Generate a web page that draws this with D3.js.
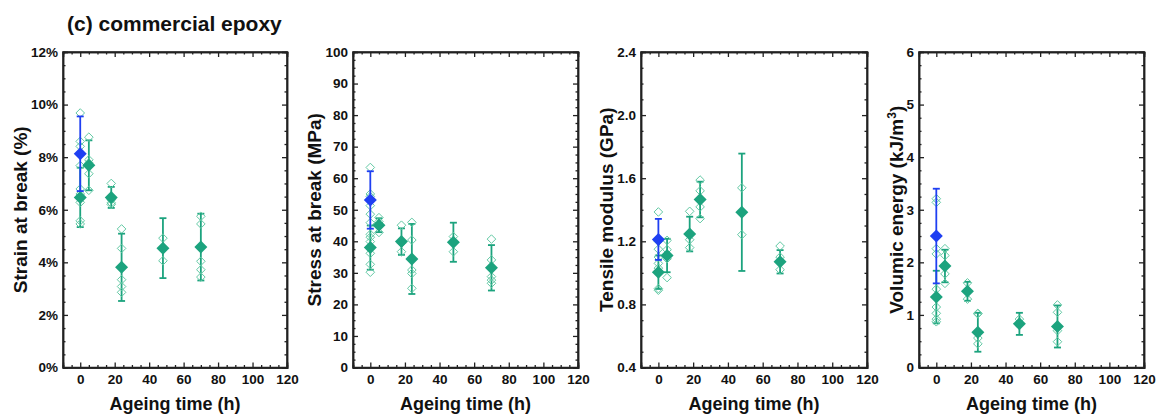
<!DOCTYPE html>
<html><head><meta charset="utf-8">
<script src="https://cdn.jsdelivr.net/npm/d3@7"></script>
<style>
body{margin:0;background:#fff;}
text{font-family:"Liberation Sans",Arial,sans-serif;font-weight:bold;fill:#111;}
</style></head>
<body><svg id="c" width="1156" height="414"></svg>
<script>
// ---- data ----
const times = [0, 5, 18, 24, 48, 70];
const xTicks = [0, 20, 40, 60, 80, 100, 120];

const strainMean = [6.47, 7.69, 6.47, 3.81, 4.54, 4.58];
const strainErr  = [1.13, 0.95, 0.40, 1.28, 1.14, 1.27];
const strainRef  = [8.13, 1.42];
const strainPts  = [[9.68, 8.6, 8.41, 7.68, 6.79, 6.6, 6.28, 5.58, 5.46],
                    [8.76, 7.9, 7.78, 7.37, 6.74],
                    [7.0, 6.38, 6.26, 6.2],
                    [5.27, 4.53, 3.34, 3.08, 2.86],
                    [4.92, 4.06],
                    [5.75, 5.46, 4.04, 3.72, 3.44]];

const stressMean = [38.0, 45.1, 39.9, 34.4, 39.7, 31.6];
const stressErr  = [7.0, 2.2, 4.2, 11.1, 6.2, 7.2];
const stressRef  = [53.1, 9.1];
const stressPts  = [[63.4, 55.0, 54.2, 51.3, 48.6, 45.9, 42.2, 41.3, 39.9, 36.2, 32.7, 30.2],
                    [47.5, 46.2, 42.8],
                    [45.1, 39.4, 36.7],
                    [46.0, 40.4, 30.9, 29.8, 25.1],
                    [41.5, 36.7],
                    [40.7, 34.1, 28.8, 27.7, 26.7]];

const modMean = [1.004, 1.11, 1.246, 1.465, 1.384, 1.07];
const modErr  = [0.106, 0.106, 0.11, 0.113, 0.372, 0.074];
const modRef  = [1.212, 0.13];
const modPts  = [[1.386, 1.2, 1.15, 1.1, 1.06, 1.03, 0.9, 0.89],
                 [1.206, 1.147, 1.09, 0.97],
                 [1.39, 1.21, 1.16],
                 [1.588, 1.52, 1.418, 1.344],
                 [1.539, 1.242],
                 [1.17, 1.1, 1.02]];

const energyMean = [1.34, 1.93, 1.45, 0.67, 0.83, 0.78];
const energyErr  = [0.5, 0.31, 0.18, 0.37, 0.21, 0.4];
const energyRef  = [2.5, 0.9];
const energyPts  = [[3.21, 3.14, 2.26, 2.16, 1.49, 1.15, 1.03, 0.92, 0.87],
                    [2.26, 2.13, 1.78, 1.6],
                    [1.61, 1.3],
                    [1.03, 1.02, 0.56, 0.45],
                    [0.92],
                    [1.19, 1.05, 0.7, 0.49]];

const panels = [
  {left:63,  right:287,  yDom:[0,12],    major:2,   minor:0.5,   fmt:d=>d+"%", label:"Strain at break (%)", lx:20,
   mean:strainMean, err:strainErr, ref:strainRef, pts:strainPts},
  {left:353, right:578,  yDom:[0,100],   major:10,  minor:2.5,   fmt:d=>d, label:"Stress at break (MPa)", lx:314,
   mean:stressMean, err:stressErr, ref:stressRef, pts:stressPts},
  {left:641, right:867,  yDom:[0.4,2.4], major:0.4, minor:0.1,   fmt:d3.format(".1f"), label:"Tensile modulus (GPa)", lx:606,
   mean:modMean, err:modErr, ref:modRef, pts:modPts},
  {left:919, right:1144, yDom:[0,6],     major:1,   minor:0.25,  fmt:d=>d, label:"Volumic energy (kJ/m3)", lx:896, sup:true,
   mean:energyMean, err:energyErr, ref:energyRef, pts:energyPts}
];

const TOP = 52, BOT = 367.5;
const GREEN = "#1ca37e", LIGHT = "#62c9a4", BLUE = "#1f3ff2";
const svg = d3.select("#c");

svg.append("text").attr("x", 67).attr("y", 31).style("font-size", "21px").text("(c) commercial epoxy");

const diamond = r => `M0,${-r}L${r},0L0,${r}L${-r},0Z`;

function range(a, b, s){ const r=[]; for(let v=a; v<=b+1e-9; v+=s) r.push(+v.toFixed(4)); return r; }

panels.forEach(p => {
  const x = d3.scaleLinear().domain([-10, 120]).range([p.left, p.right]);
  const y = d3.scaleLinear().domain(p.yDom).range([BOT, TOP]);
  const g = svg.append("g");

  const yMajor = range(p.yDom[0], p.yDom[1], p.major);
  const yMinor = range(p.yDom[0], p.yDom[1], p.minor).filter(v => !yMajor.some(m => Math.abs(m - v) < 1e-6));
  const xMinor = range(-10, 120, 5).filter(v => !xTicks.includes(v));

  function axisSet(gen, scale, major, minor, tx, ty, labels){
    g.append("g").attr("transform", `translate(${tx},${ty})`)
      .call(gen(scale).tickValues(major).tickSize(-5).tickPadding(labels ? (gen===d3.axisBottom?7:5) : 0)
        .tickFormat(labels ? labels : () => ""));
    g.append("g").attr("transform", `translate(${tx},${ty})`)
      .call(gen(scale).tickValues(minor).tickSize(-2.5).tickFormat(() => ""));
  }
  axisSet(d3.axisBottom, x, xTicks, xMinor, 0, BOT, d => d);
  axisSet(d3.axisTop, x, xTicks, xMinor, 0, TOP, null);
  axisSet(d3.axisLeft, y, yMajor, yMinor, p.left, 0, p.fmt);
  axisSet(d3.axisRight, y, yMajor, yMinor, p.right, 0, null);
  g.selectAll(".domain").attr("stroke", "#222").attr("stroke-width", 1.5);
  g.selectAll(".tick line").attr("stroke", "#222").attr("stroke-width", 1.3);
  g.selectAll(".tick text").style("font-size", "13.5px").attr("fill", "#111")
    .style("font-family", '"Liberation Sans",Arial,sans-serif').style("font-weight", "bold");

  g.append("rect").attr("x", p.left).attr("y", TOP).attr("width", p.right - p.left).attr("height", BOT - TOP)
    .attr("fill", "none").attr("stroke", "#222").attr("stroke-width", 1.5);

  function errBar(t, m, e, color){
    const xx = x(t), y1 = y(m + e), y2 = y(m - e);
    g.append("line").attr("x1", xx).attr("x2", xx).attr("y1", y1).attr("y2", y2).attr("stroke", color).attr("stroke-width", 1.8);
    [y1, y2].forEach(yy => g.append("line").attr("x1", xx - 3.5).attr("x2", xx + 3.5).attr("y1", yy).attr("y2", yy)
      .attr("stroke", color).attr("stroke-width", 1.8));
  }
  times.forEach((t, i) => errBar(t, p.mean[i], p.err[i], GREEN));

  times.forEach((t, i) => {
    g.selectAll(null).data(p.pts[i]).enter().append("path")
      .attr("d", diamond(4.3))
      .attr("transform", d => `translate(${x(t)},${y(d)})`)
      .attr("fill", "none").attr("stroke", LIGHT).attr("stroke-width", 1);
  });

  g.selectAll(null).data(times).enter().append("path")
    .attr("d", diamond(6.5))
    .attr("transform", (t, i) => `translate(${x(t)},${y(p.mean[i])})`)
    .attr("fill", GREEN);

  errBar(0, p.ref[0], p.ref[1], BLUE);
  g.append("path").attr("d", diamond(6.5))
    .attr("transform", `translate(${x(0)},${y(p.ref[0])})`).attr("fill", BLUE);

  g.append("text").attr("x", (p.left + p.right) / 2).attr("y", 410).attr("text-anchor", "middle")
    .style("font-size", "18px").text("Ageing time (h)");
  const yl = g.append("text").attr("transform", `translate(${p.lx},${(TOP + BOT) / 2}) rotate(-90)`)
    .attr("text-anchor", "middle").attr("dy", "0.35em").style("font-size", "19px");
  if (p.sup) {
    yl.append("tspan").text("Volumic energy (kJ/m");
    yl.append("tspan").attr("baseline-shift", "super").style("font-size", "12px").text("3");
    yl.append("tspan").text(")");
  } else yl.text(p.label);
});
</script></body></html>
